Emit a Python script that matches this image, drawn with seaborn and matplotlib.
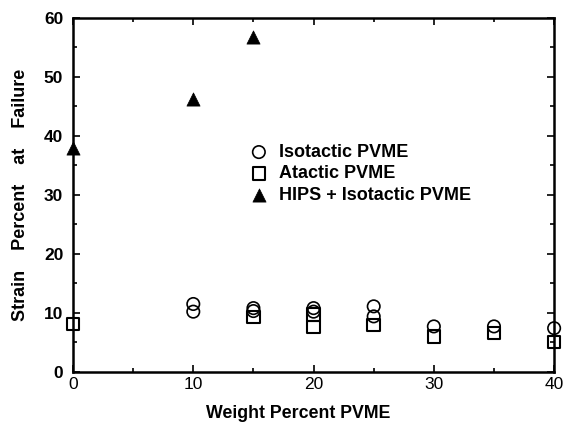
import matplotlib
matplotlib.use("Agg")
import matplotlib.pyplot as plt
import seaborn as sns
import pandas as pd
from matplotlib.ticker import MultipleLocator

sns.set_theme(style="ticks")
plt.rcParams['font.family'] = ['Liberation Sans', 'DejaVu Sans']
plt.rcParams['text.color'] = 'black'
plt.rcParams['axes.labelcolor'] = 'black'
plt.rcParams['xtick.labelcolor'] = 'black'
plt.rcParams['ytick.labelcolor'] = 'black'

iso_x = [10, 10, 15, 15, 20, 20, 25, 25, 30, 35, 40]
iso_y = [11.5, 10.2, 10.8, 10.3, 10.8, 10.2, 11.1, 9.4, 7.7, 7.7, 7.4]
ata_x = [0, 15, 20, 20, 25, 30, 35, 40]
ata_y = [8.1, 9.3, 9.7, 7.6, 7.9, 6.0, 6.6, 5.1]
hips_x = [0, 10, 15]
hips_y = [38.0, 46.3, 56.8]

labels = ["Isotactic PVME", "Atactic PVME", "HIPS + Isotactic PVME"]

df = pd.concat([
    pd.DataFrame({"x": iso_x, "y": iso_y, "series": labels[0]}),
    pd.DataFrame({"x": ata_x, "y": ata_y, "series": labels[1]}),
    pd.DataFrame({"x": hips_x, "y": hips_y, "series": labels[2]}),
])

fig = plt.figure(figsize=(5.66, 4.24), dpi=100)
ax = fig.add_axes([0.129, 0.123, 0.850, 0.835])

styles = {
    labels[0]: dict(marker="o", s=80, facecolors="none", edgecolors="black", linewidths=1.2),
    labels[1]: dict(marker="s", s=80, facecolors="none", edgecolors="black", linewidths=1.5),
    labels[2]: dict(marker="^", s=90, color="black", edgecolors="black", linewidths=0.5),
}
for lab in labels:
    sub = df[df["series"] == lab]
    sns.scatterplot(data=sub, x="x", y="y", ax=ax, label=lab, clip_on=False, zorder=3,
                    **styles[lab])

ax.set_xlim(0, 40)
ax.set_ylim(0, 60)
ax.xaxis.set_major_locator(MultipleLocator(10))
ax.xaxis.set_minor_locator(MultipleLocator(5))
ax.yaxis.set_major_locator(MultipleLocator(10))
ax.yaxis.set_minor_locator(MultipleLocator(5))
ax.tick_params(which="both", direction="in", top=True, right=True, color="black")
ax.tick_params(which="major", length=5, width=1.2, labelsize=12.5)
ax.tick_params(which="minor", length=3, width=1.2)
ax.tick_params(axis="y", pad=7)
for lbl in ax.get_yticklabels():
    lbl.set_fontweight("bold")
for sp in ax.spines.values():
    sp.set_linewidth(1.8)
    sp.set_color("black")

ax.set_xlabel("Weight Percent PVME", fontsize=12.8, fontweight="bold")
ax.xaxis.set_label_coords(0.468, -0.095)
ax.set_ylabel("Strain    Percent    at    Failure", fontsize=13, fontweight="bold")
ax.yaxis.set_label_coords(-0.092, 0.5)

leg = ax.legend(loc="upper left", bbox_to_anchor=(0.33, 0.69), frameon=False,
                handletextpad=0.5, labelspacing=0.25, handlelength=1.2,
                prop=dict(weight="bold", size=13))

fig.savefig("out.png", dpi=100)
